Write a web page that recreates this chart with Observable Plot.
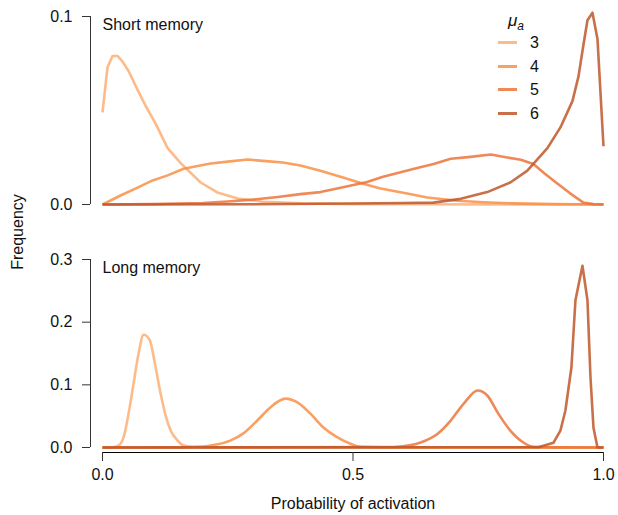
<!DOCTYPE html>
<html>
<head>
<meta charset="utf-8">
<script src="https://cdn.jsdelivr.net/npm/d3@7"></script>
<script src="https://cdn.jsdelivr.net/npm/@observablehq/plot@0.6"></script>
<style>
  body { margin: 0; background: #fff; font-family: "Liberation Sans", Arial, sans-serif; }
  #wrap { position: relative; width: 618px; height: 515px; overflow: hidden; }
  #top, #bottom { position: absolute; left: 0; }
  #top { top: 0; }
  #bottom { top: 240px; }
  #ylab { position: absolute; left: 18px; top: 232px; transform: translate(-50%, -50%) rotate(-90deg); font-size: 16px; color: #111; white-space: nowrap; }
  #legend { position: absolute; left: 0; top: 0; font-size: 16px; color: #111; }
  .lg-title { position: absolute; left: 508px; top: 11px; font-style: italic; font-size: 17px; }
  .lg-row { position: absolute; left: 498px; height: 20px; }
  .lg-sw { position: absolute; left: 0; top: 8px; width: 19px; height: 3px; }
  .lg-txt { position: absolute; left: 32px; top: 0; line-height: 20px; }
</style>
</head>
<body>
<div id="wrap">
  <div id="top"></div>
  <div id="bottom"></div>
  <div id="ylab">Frequency</div>
  <div id="legend"></div>
</div>
<script>
const mus = [3, 4, 5, 6];
const colors = ["#fdaf75", "#f88f46", "#ec743b", "#be572a"];
const xTicks = [0, 0.5, 1];
const yTicksShort = [0, 0.1];
const yTicksLong = [0, 0.1, 0.2, 0.3];
const panelTitles = ["Short memory", "Long memory"];

// Short memory
const s3x = [0, 0.01, 0.02, 0.03, 0.04, 0.052, 0.07, 0.087, 0.106, 0.13, 0.156, 0.196, 0.229, 0.27, 0.32, 0.4, 0.5, 0.6, 0.8, 1.0];
const s3y = [0.049, 0.073, 0.079, 0.079, 0.076, 0.071, 0.061, 0.052, 0.043, 0.030, 0.022, 0.0117, 0.0064, 0.0032, 0.0015, 0.0006, 0.0002, 0.0001, 0, 0];
const s4x = [0, 0.036, 0.07, 0.10, 0.13, 0.162, 0.19, 0.216, 0.25, 0.29, 0.32, 0.36, 0.395, 0.435, 0.48, 0.52, 0.555, 0.608, 0.648, 0.708, 0.76, 0.82, 0.9, 1.0];
const s4y = [0, 0.0048, 0.009, 0.0128, 0.0155, 0.019, 0.0205, 0.0218, 0.0228, 0.0239, 0.0232, 0.0223, 0.0207, 0.018, 0.0144, 0.011, 0.0085, 0.0058, 0.0037, 0.002, 0.0012, 0.0006, 0.0002, 0];
const s5x = [0, 0.1, 0.2, 0.25, 0.30, 0.35, 0.395, 0.435, 0.48, 0.528, 0.56, 0.595, 0.63, 0.661, 0.695, 0.73, 0.775, 0.808, 0.835, 0.86, 0.88, 0.90, 0.934, 0.96, 0.98, 1.0];
const s5y = [0, 0.0002, 0.0008, 0.0016, 0.0026, 0.004, 0.0055, 0.0066, 0.0092, 0.012, 0.0148, 0.0172, 0.0195, 0.0216, 0.0243, 0.0252, 0.0266, 0.025, 0.0238, 0.0216, 0.017, 0.0128, 0.0058, 0.001, 0.0002, 0];
const s6x = [0, 0.3, 0.5, 0.6, 0.66, 0.715, 0.768, 0.814, 0.848, 0.868, 0.888, 0.914, 0.938, 0.95, 0.96, 0.968, 0.978, 0.988, 1.0];
const s6y = [0, 0.0001, 0.0005, 0.0008, 0.001, 0.003, 0.0066, 0.0117, 0.018, 0.024, 0.030, 0.041, 0.055, 0.068, 0.085, 0.098, 0.102, 0.088, 0.031];

// Long memory
const l3x = [0, 0.02, 0.032, 0.042, 0.052, 0.062, 0.072, 0.082, 0.094, 0.106, 0.116, 0.126, 0.136, 0.15, 0.16, 0.18, 0.22, 1.0];
const l3y = [0, 0.0003, 0.003, 0.016, 0.054, 0.102, 0.15, 0.18, 0.172, 0.128, 0.086, 0.051, 0.027, 0.011, 0.004, 0.001, 0, 0];
const l4x = [0, 0.16, 0.2, 0.222, 0.255, 0.282, 0.309, 0.335, 0.365, 0.389, 0.415, 0.441, 0.469, 0.495, 0.515, 0.56, 1.0];
const l4y = [0, 0.0002, 0.0015, 0.004, 0.011, 0.023, 0.043, 0.064, 0.078, 0.072, 0.054, 0.032, 0.016, 0.006, 0.001, 0.0002, 0];
const l5x = [0, 0.58, 0.61, 0.635, 0.669, 0.695, 0.721, 0.749, 0.768, 0.79, 0.814, 0.84, 0.86, 0.9, 1.0];
const l5y = [0, 0.0008, 0.003, 0.008, 0.022, 0.043, 0.07, 0.091, 0.083, 0.054, 0.027, 0.008, 0.001, 0.0002, 0];
const l6x = [0, 0.87, 0.90, 0.914, 0.924, 0.936, 0.944, 0.958, 0.968, 0.974, 0.98, 0.988, 1.0];
const l6y = [0, 0.0005, 0.0075, 0.027, 0.059, 0.128, 0.235, 0.29, 0.235, 0.112, 0.0315, 0, 0];

function rows(xsArr, ysArr) {
  const out = [];
  xsArr.forEach((xa, i) => xa.forEach((x, j) => out.push({mu: mus[i], x, y: ysArr[i][j]})));
  return out;
}
const shortData = rows([s3x, s4x, s5x, s6x], [s3y, s4y, s5y, s6y]);
const longData = rows([l3x, l4x, l5x, l6x], [l3y, l4y, l5y, l6y]);

const font = "'Liberation Sans', Arial, sans-serif";
const axisGray = "#333";

function panel(data, yTicks, title, opts) {
  const yMax = yTicks[yTicks.length - 1];
  const lineOpts = {x: "x", y: "y", z: "mu", stroke: "mu", strokeWidth: 2.6, strokeOpacity: 0.85, strokeLinejoin: "round", strokeLinecap: "butt"};
  const marks = [
    Plot.ruleX([0], {y1: 0, y2: yMax, dx: -12, stroke: axisGray, strokeWidth: 1}),
    Plot.axisY({ticks: yTicks, tickFormat: ".1f", dx: -12, tickSize: 8, tickPadding: 10, stroke: axisGray, fill: "#111", fontSize: 16, label: null}),
    Plot.line(data.filter(d => d.mu !== 6), {...lineOpts, curve: opts.curve}),
    Plot.line(data.filter(d => d.mu === 6), {...lineOpts, curve: "linear"}),
    Plot.text([title], {frameAnchor: "top-left", textAnchor: "start", lineAnchor: "top", dy: 2, fontSize: 16, fill: "#111"})
  ];
  if (opts.xAxis) {
    marks.push(
      Plot.ruleY([0], {x1: 0, x2: 1, dy: 5, stroke: "#000", strokeWidth: 1}),
      Plot.axisX({ticks: xTicks, tickFormat: ".1f", dy: 5, tickSize: 9, tickPadding: 7, stroke: axisGray, fill: "#111", fontSize: 16, label: null}),
      Plot.text(["Probability of activation"], {frameAnchor: "bottom", lineAnchor: "middle", dy: 56, fontSize: 16, fill: "#111"})
    );
  }
  return Plot.plot({
    width: 618,
    height: opts.height,
    marginLeft: 102,
    marginRight: 15,
    marginTop: opts.marginTop,
    marginBottom: opts.marginBottom,
    x: {domain: [0, 1], axis: null},
    y: {domain: [0, yMax], axis: null},
    color: {domain: mus, range: colors},
    style: {fontFamily: font, fontSize: "16px", overflow: "visible", background: "transparent"},
    marks
  });
}

document.getElementById("top").appendChild(panel(shortData, yTicksShort, panelTitles[0], {height: 240, marginTop: 16, marginBottom: 36, curve: "linear"}));
document.getElementById("bottom").appendChild(panel(longData, yTicksLong, panelTitles[1], {height: 275, marginTop: 19, marginBottom: 68, xAxis: true, curve: "monotone-x"}));

// Legend
const lg = document.getElementById("legend");
const t = document.createElement("div");
t.className = "lg-title";
t.innerHTML = "μ<sub style='font-size:12px'>a</sub>";
lg.appendChild(t);
const rowTops = [33, 57, 80, 104];
mus.forEach((m, i) => {
  const r = document.createElement("div");
  r.className = "lg-row";
  r.style.top = rowTops[i] + "px";
  r.innerHTML = `<div class="lg-sw" style="background:${colors[i]};opacity:0.85"></div><div class="lg-txt">${m}</div>`;
  lg.appendChild(r);
});
</script>
</body>
</html>
